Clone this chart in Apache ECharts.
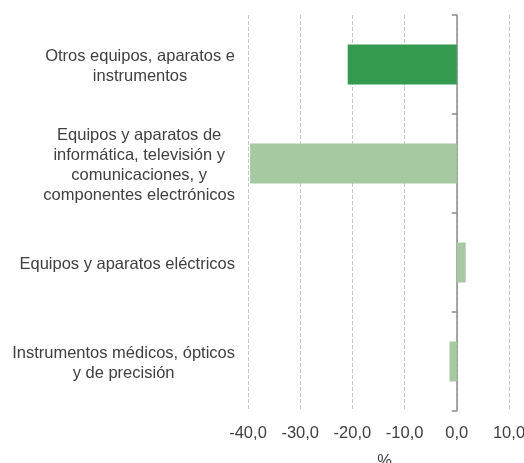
<!DOCTYPE html>
<html><head><meta charset="utf-8">
<script src="https://cdn.jsdelivr.net/npm/echarts@6/dist/echarts.min.js"></script>
<style>html,body{margin:0;padding:0;background:#fff;overflow:hidden}#c{width:524px;height:463px}</style>
</head><body><div id="c"></div>
<script>
const categories = [
  "Otros equipos, aparatos e\ninstrumentos",
  "Equipos y aparatos de\ninformática, televisión y\ncomunicaciones, y\ncomponentes electrónicos",
  "Equipos y aparatos eléctricos",
  "Instrumentos médicos, ópticos\ny de precisión"
];
const values = [-20.9, -39.6, 1.7, -1.4];
const xTicks = [-40, -30, -20, -10, 0, 10];
const xName = "%";

const barColors = ["#339a50", "#a6c9a2", "#a6c9a2", "#a6c9a2"];
const chart = echarts.init(document.getElementById('c'));
const font = "'Liberation Sans', Arial, sans-serif";
const txt = {color: '#404040', fontSize: 16.5, fontFamily: font};
chart.setOption({
  animation: false,
  grid: {left: 248, right: 15, top: 15, bottom: 52, containLabel: false, outerBoundsMode: 'none'},
  xAxis: {
    type: 'value', min: xTicks[0], max: xTicks[xTicks.length-1], interval: 10,
    name: xName, nameLocation: 'middle', nameGap: 42,
    nameTextStyle: Object.assign({padding: [0, 0, 0, 12]}, txt),
    axisLine: {show: false}, axisTick: {show: false},
    axisLabel: Object.assign({margin: 14,
      formatter: v => v.toFixed(1).replace('.', ',')}, txt),
    splitLine: {show: true, lineStyle: {color: '#c4c4c4', width: 1, type: [4, 2]}}
  },
  yAxis: [
    {
      type: 'category', data: categories, inverse: true,
      axisLine: {show: false, onZero: false}, axisTick: {show: false},
      axisLabel: {align: 'right', margin: 13, padding: [4, 0, 0, 0],
        formatter: v => v.split('\n').map(s => '{c|' + s + '}').join('\n'),
        rich: {c: Object.assign({align: 'center', lineHeight: 20}, txt)}}
    },
    {
      type: 'category', data: categories, inverse: true, position: 'left',
      axisLine: {show: true, onZero: true, lineStyle: {color: '#8c8c8c', width: 1.5}},
      axisTick: {show: true, length: 5, lineStyle: {color: '#8c8c8c', width: 1.5}},
      axisLabel: {show: false}, splitLine: {show: false}
    }
  ],
  series: [{
    type: 'bar', data: values, yAxisIndex: 0, barWidth: 40,
    itemStyle: {color: p => barColors[p.dataIndex]}
  }]
});
</script></body></html>
